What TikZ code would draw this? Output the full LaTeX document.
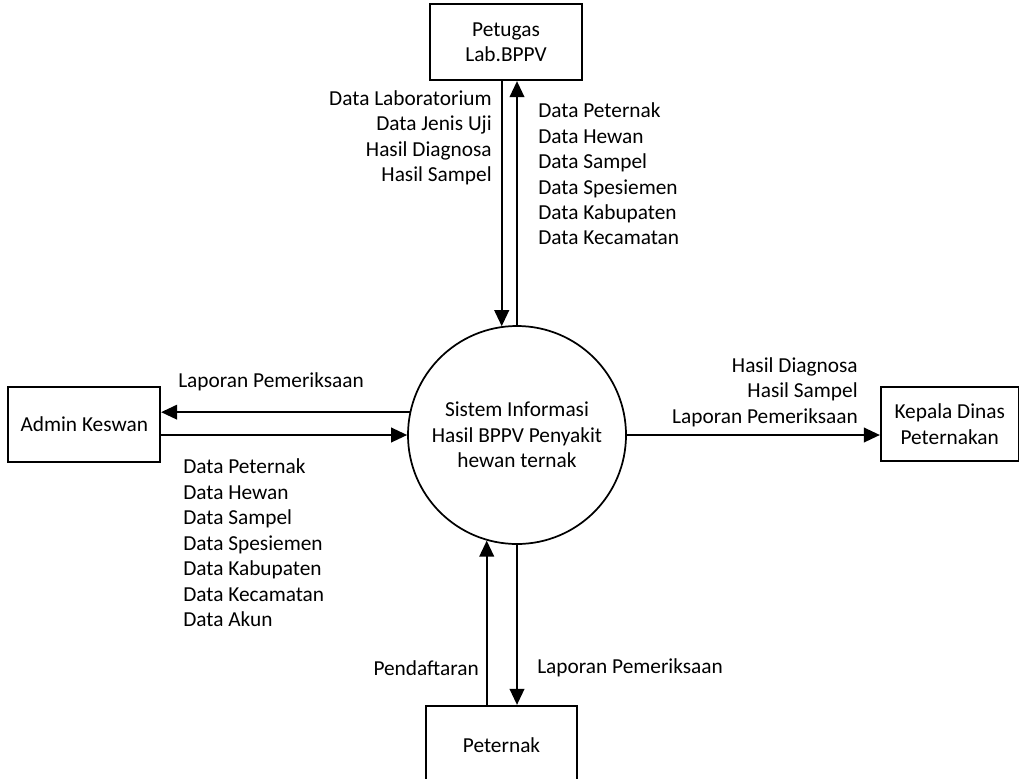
\documentclass[tikz,border=0pt]{standalone}
\usepackage{fontspec}
\setmainfont{Carlito}
\usetikzlibrary{shapes.geometric, arrows.meta, positioning}
\tikzstyle{entity} = [rectangle, draw, line width=1.3pt, text centered, align=center, minimum width=114pt, minimum height=57pt]
\tikzstyle{process} = [circle, draw, line width=1.3pt, align=center, minimum size=163.5pt, inner sep=0pt]
\tikzstyle{connector} = [draw, line width=1.3pt, -{Triangle[length=12pt, width=11pt]}]
\tikzstyle{flow} = [inner sep=0pt]

\begin{document}
\begin{tikzpicture}[x=0.75pt, y=-0.75pt, font=\fontsize{16}{19.1}\selectfont]
            \useasboundingbox (0,0) rectangle (1019,778);

            \node[process] (sys) at (517,435) {Sistem Informasi\\Hasil BPPV Penyakit\\hewan ternak};
            \node[entity, above=183pt of sys, xshift=-8.25pt] (petugas) {Petugas\\Lab.BPPV};
            \node[entity, left=184.5pt of sys, yshift=7.9pt, minimum height=56.25pt] (admin) {Admin Keswan};
            \node[entity, right=189.75pt of sys, yshift=8.25pt, minimum width=103.5pt, minimum height=55.5pt] (kepala) {Kepala Dinas\\Peternakan};
            \node[entity, below=120pt of sys, xshift=-11.6pt, minimum width=113.25pt, minimum height=58.5pt] (peternak) {Peternak};

            \node[flow, anchor=east, align=right] (lab_in) at (492,138) {Data Laboratorium\\Data Jenis Uji\\Hasil Diagnosa\\Hasil Sampel};
            \node[flow, anchor=west, align=left] (lab_out) at (538,174) {Data Peternak\\Data Hewan\\Data Sampel\\Data Spesiemen\\Data Kabupaten\\Data Kecamatan};
            \node[flow, anchor=west] (admin_in) at (178,382) {Laporan Pemeriksaan};
            \node[flow, anchor=west, align=left] (admin_out) at (183,543) {Data Peternak\\Data Hewan\\Data Sampel\\Data Spesiemen\\Data Kabupaten\\Data Kecamatan\\Data Akun};
            \node[flow, anchor=east, align=right] (kepala_in) at (858,392) {Hasil Diagnosa\\Hasil Sampel\\Laporan Pemeriksaan};
            \node[flow, anchor=east] (peternak_out) at (479,668) {Pendaftaran};
            \node[flow, anchor=west] (peternak_in) at (537,668) {Laporan Pemeriksaan};

            \draw[connector] (petugas.south -| sys.98) -- (sys.98);
            \draw[connector] (sys.north) -- (sys.north |- petugas.south);
            \draw[connector] (sys.168) -- (admin.east |- sys.168);
            \draw[connector] (admin.east |- sys.west) -- (sys.west);
            \draw[connector] (sys.east) -- (kepala.west |- sys.east);
            \draw[connector] (peternak.north -| sys.254) -- (sys.254);
            \draw[connector] (sys.south) -- (sys.south |- peternak.north);
        \end{tikzpicture}
\end{document}
